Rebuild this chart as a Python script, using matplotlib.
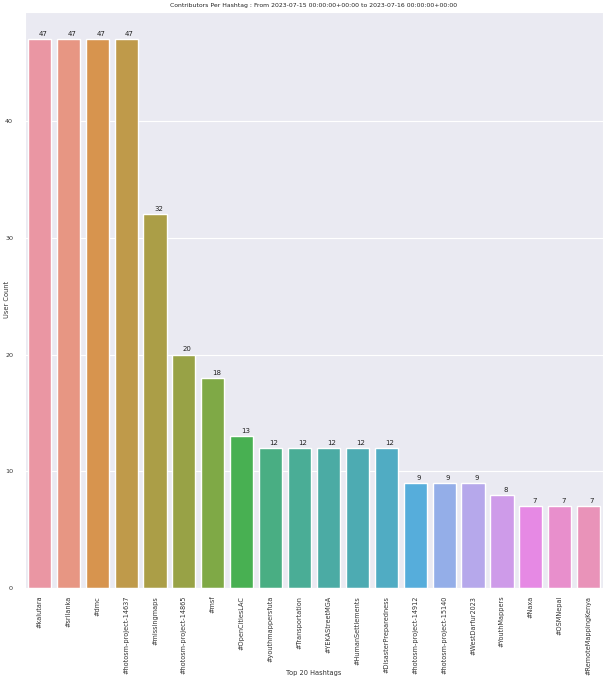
import numpy as np
import matplotlib
matplotlib.use('Agg')
import matplotlib.pyplot as plt
import seaborn as sns

hashtags = ['#kalutara', '#srilanka', '#dmc', '#hotosm-project-14637', '#missingmaps',
            '#hotosm-project-14865', '#msf', '#OpenCitiesLAC', '#youthmappersfuta',
            '#Transportation', '#YEKAStreetMGA', '#HumanSettlements', '#DisasterPreparedness',
            '#hotosm-project-14912', '#hotosm-project-15140', '#WestDarfur2023',
            '#YouthMappers', '#Naxa', '#OSMNepal', '#RemoteMappingKenya']
user_count = [47, 47, 47, 47, 32, 20, 18, 13, 12, 12, 12, 12, 12, 9, 9, 9, 8, 7, 7, 7]

sns.set_style('darkgrid')
plt.rcParams['font.family'] = ['DejaVu Sans']

colors = [sns.desaturate(c, 0.75) for c in sns.husl_palette(len(hashtags), l=.7)]

fig, ax = plt.subplots(figsize=(6.08, 6.8), dpi=100)
bars = ax.bar(np.arange(len(hashtags)), user_count, color=colors, width=0.8)
ax.set_xlim(-0.5, len(hashtags) - 0.5)
ax.grid(False, axis='x')
ax.set_xticks(np.arange(len(hashtags)))
ax.set_xticklabels(hashtags, rotation=90, fontsize=4.7, color='#333333')
ax.tick_params(axis='y', labelsize=4.6, pad=5, labelcolor='#333333')
ax.tick_params(axis='x', pad=2)
for b in bars:
    ax.annotate(format(b.get_height(), '.0f'),
                (b.get_x() + b.get_width() / 2, b.get_height()),
                xytext=(2.5, 1.5), textcoords='offset points',
                ha='center', va='bottom', fontsize=5, color='#222222')
ax.set_xlabel('Top 20 Hashtags', fontsize=4.8, color='#333333')
ax.set_ylabel('User Count', fontsize=4.8, color='#333333')
ax.xaxis.set_label_coords(0.5, -0.141)
ax.yaxis.set_label_coords(-0.026, 0.5)
ax.set_title('Contributors Per Hashtag : From 2023-07-15 00:00:00+00:00 to 2023-07-16 00:00:00+00:00',
             fontsize=4.4, pad=3, color='#222222')
fig.subplots_adjust(left=0.041, right=0.992, top=0.983, bottom=0.135)
fig.savefig('out.png', dpi=100)
